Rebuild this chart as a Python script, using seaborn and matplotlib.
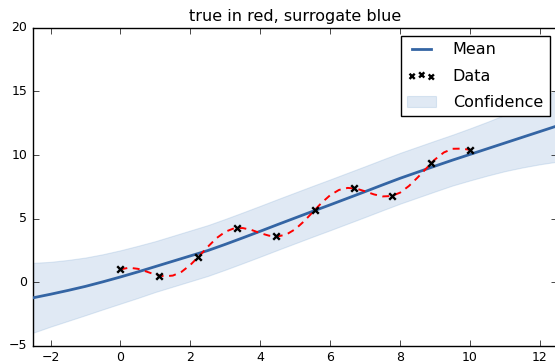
import matplotlib
matplotlib.use('Agg')
import matplotlib.pyplot as plt
import seaborn as sns

# classic matplotlib look (ticks inside, boxed legend)
plt.style.use('classic')

# observed data
data_x = [0.0, 1.111, 2.222, 3.333, 4.444, 5.556, 6.667, 7.778, 8.889, 10.0]
data_y = [1.0, 0.50, 1.95, 4.26, 3.59, 5.68, 7.42, 6.79, 9.36, 10.41]

# true function (red dashed)
true_x = [0.0, 0.25, 0.5, 0.75, 1.0, 1.25, 1.5, 1.75, 2.0, 2.25, 2.5, 2.75,
          3.0, 3.25, 3.5, 3.75, 4.0, 4.25, 4.5, 4.75, 5.0, 5.25, 5.5, 5.75,
          6.0, 6.25, 6.5, 6.75, 7.0, 7.25, 7.5, 7.75, 8.0, 8.25, 8.5, 8.75,
          9.0, 9.25, 9.5, 9.75, 10.0]
true_y = [1.00, 1.13, 1.04, 0.82, 0.58, 0.45, 0.51, 0.81, 1.35, 2.04, 2.78,
          3.46, 3.96, 4.23, 4.25, 4.10, 3.85, 3.65, 3.59, 3.75, 4.16, 4.78,
          5.50, 6.23, 6.84, 7.25, 7.41, 7.35, 7.14, 6.90, 6.74, 6.77, 7.04,
          7.56, 8.23, 8.95, 9.66, 10.20, 10.49, 10.50, 10.41]

# surrogate mean and confidence band
grid_x = [-2.5, -2.0, -1.5, -1.0, -0.5, 0.0, 0.5, 1.0, 1.5, 2.0, 2.5, 3.0,
          3.5, 4.0, 4.5, 5.0, 5.5, 6.0, 6.5, 7.0, 7.5, 8.0, 8.5, 9.0, 9.5,
          10.0, 10.5, 11.0, 11.5, 12.0, 12.5]
mean_y = [-1.24, -0.96, -0.66, -0.34, 0.02, 0.40, 0.80, 1.22, 1.64, 2.06,
          2.48, 2.97, 3.48, 4.00, 4.53, 5.05, 5.57, 6.08, 6.60, 7.12, 7.65,
          8.17, 8.65, 9.13, 9.60, 10.05, 10.50, 10.95, 11.40, 11.85, 12.30]
lower_y = [-3.99, -3.51, -3.06, -2.61, -2.15, -1.70, -1.25, -0.78, -0.36,
           0.06, 0.48, 0.97, 1.48, 2.00, 2.53, 3.05, 3.57, 4.08, 4.60, 5.12,
           5.65, 6.17, 6.65, 7.13, 7.60, 8.00, 8.38, 8.73, 9.02, 9.27, 9.48]
upper_y = [1.51, 1.59, 1.74, 1.93, 2.19, 2.50, 2.85, 3.22, 3.64, 4.06, 4.48,
           4.97, 5.48, 6.00, 6.53, 7.05, 7.57, 8.08, 8.60, 9.12, 9.65, 10.17,
           10.65, 11.13, 11.60, 12.10, 12.62, 13.17, 13.78, 14.43, 15.12]

fig = plt.figure(figsize=(5.55, 3.63), dpi=100, facecolor='white')
ax = fig.add_axes([0.0595, 0.048, 0.945, 0.875])
ax.set_facecolor('white')

sns.lineplot(x=grid_x, y=mean_y, color='#3465a4', linewidth=2, label='Mean', ax=ax, zorder=3)
sns.scatterplot(x=data_x, y=data_y, marker='x', color='k', s=22, linewidth=1.7,
                label='Data', ax=ax, zorder=5)
ax.fill_between(grid_x, lower_y, upper_y, facecolor='#729fcf', edgecolor='#729fcf',
                alpha=0.22, linewidth=0.8, label='Confidence', zorder=1)
sns.lineplot(x=true_x, y=true_y, color='r', linestyle=(0, (5, 4)), linewidth=1.4,
             ax=ax, zorder=4)

ax.set_xlim(-2.5, 12.5)
ax.set_ylim(-5, 20)
ax.set_xticks([-2, 0, 2, 4, 6, 8, 10, 12])
ax.set_yticks([-5, 0, 5, 10, 15, 20])
ax.tick_params(labelsize=9)
ax.set_xlabel('')
ax.set_ylabel('')
ax.set_title('true in red, surrogate blue', fontsize=11.5)
ax.legend(loc='upper right', fontsize=11.5, labelspacing=0.7,
          handlelength=1.8, handletextpad=1.05, markerscale=0.8)

fig.savefig('out.png', dpi=100, facecolor='white')
